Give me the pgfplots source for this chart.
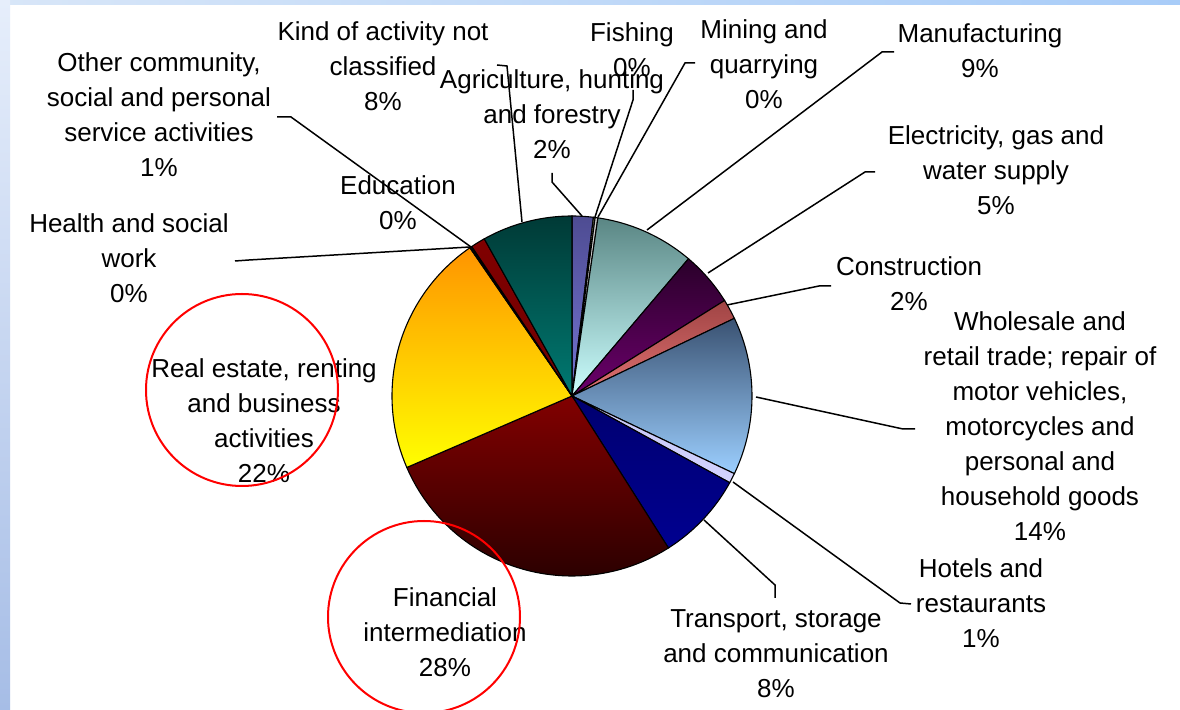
\documentclass[border=0pt]{standalone}
\usepackage{pgfplots}
\pgfplotsset{compat=1.18}
\usepackage{fontspec}
\setmainfont{Liberation Sans}

% slice colours (top / bottom of each gradient)
\definecolor{agriT}{HTML}{4E4C92}\definecolor{agriB}{HTML}{7474D4}
\definecolor{fishT}{HTML}{A0A070}\definecolor{fishB}{HTML}{FFFFCC}
\definecolor{mineT}{HTML}{C8C8C8}\definecolor{mineB}{HTML}{FFFFFF}
\definecolor{manuT}{HTML}{5A8684}\definecolor{manuB}{HTML}{CCFFFF}
\definecolor{elecT}{HTML}{2A002A}\definecolor{elecB}{HTML}{6C006C}
\definecolor{consT}{HTML}{A04444}\definecolor{consB}{HTML}{E07272}
\definecolor{wholT}{HTML}{3A5272}\definecolor{wholB}{HTML}{9CCFFF}
\definecolor{hoteT}{HTML}{C4C4F4}\definecolor{hoteB}{HTML}{D4D4FF}
\definecolor{tranT}{HTML}{000070}\definecolor{tranB}{HTML}{000090}
\definecolor{finaT}{HTML}{820000}\definecolor{finaB}{HTML}{2C0000}
\definecolor{realT}{HTML}{FF9400}\definecolor{realB}{HTML}{FFFF00}
\definecolor{educT}{HTML}{CCCCFF}\definecolor{educB}{HTML}{CCCCFF}
\definecolor{healT}{HTML}{FFCC99}\definecolor{healB}{HTML}{FFCC99}
\definecolor{otheT}{HTML}{800000}\definecolor{otheB}{HTML}{700000}
\definecolor{kindT}{HTML}{003A36}\definecolor{kindB}{HTML}{007A72}
\definecolor{bgTop}{HTML}{E6EEFB}\definecolor{bgBot}{HTML}{A6BDE6}
\definecolor{stripL}{HTML}{D8E6F8}\definecolor{stripR}{HTML}{A8CCF8}

% pie geometry: centre (572,396), radius 180 (image pixel units)
\newcommand\cum{0}
\newcommand\pieslice[3]{%
  \pgfmathsetmacro\sA{90-3.6*\cum}%
  \pgfmathsetmacro\sB{90-3.6*(\cum+#1)}%
  \pgfmathsetmacro\newcum{\cum+#1}\xdef\cum{\newcum}%
  \edef\doit{\noexpand\addplot[draw=black, line width=0.55pt, top color=#2, bottom color=#3,
     domain=\sB:\sA, samples=90, variable=\noexpand\t]
     ({572+180*cos(\noexpand\t)},{396-180*sin(\noexpand\t)}) -- (axis cs:572,396) -- cycle;}%
  \doit}

\begin{document}
\begin{tikzpicture}
\begin{axis}[
  scale only axis, width=590pt, height=355pt,
  xmin=0, xmax=1180, ymin=0, ymax=710, y dir=reverse,
  hide axis, clip=true,
]
% background (slide)
\fill[white] (axis cs:0,0) rectangle (axis cs:1180,710);
\shade[left color=stripL, right color=stripR] (axis cs:0,0) rectangle (axis cs:1180,5);
\shade[top color=bgTop, bottom color=bgBot] (axis cs:0,0) rectangle (axis cs:10,710);

% slices, clockwise from 12 o'clock (percent of total)
\pieslice{1.9}{agriT}{agriB}   % Agriculture, hunting and forestry
\pieslice{0.15}{fishT}{fishB}  % Fishing
\pieslice{0.25}{mineT}{mineB}  % Mining and quarrying
\pieslice{8.9}{manuT}{manuB}   % Manufacturing
\pieslice{4.9}{elecT}{elecB}   % Electricity, gas and water supply
\pieslice{1.8}{consT}{consB}   % Construction
\pieslice{14.2}{wholT}{wholB}  % Wholesale and retail trade
\pieslice{0.9}{hoteT}{hoteB}   % Hotels and restaurants
\pieslice{8.0}{tranT}{tranB}   % Transport, storage and communication
\pieslice{27.5}{finaT}{finaB}  % Financial intermediation
\pieslice{21.9}{realT}{realB}  % Real estate, renting and business activities
\pieslice{0.1}{educT}{educB}   % Education
\pieslice{0.1}{healT}{healB}   % Health and social work
\pieslice{1.3}{otheT}{otheB}   % Other community, social and personal service activities
\pieslice{8.1}{kindT}{kindB}   % Kind of activity not classified

% leader lines
\begin{scope}[black, line width=0.75pt]
\draw (axis cs:497,65) -- (axis cs:507,66) -- (axis cs:522,222);
\draw (axis cs:277,117) -- (axis cs:291,117) -- (axis cs:471,247);
\draw (axis cs:235,261) -- (axis cs:249,260) -- (axis cs:470,247);
\draw (axis cs:552,173) -- (axis cs:552,182) -- (axis cs:582,216);
\draw (axis cs:633,90) -- (axis cs:633,100) -- (axis cs:595,217);
\draw (axis cs:695,63) -- (axis cs:685,63) -- (axis cs:598,217);
\draw (axis cs:894,52) -- (axis cs:882,52) -- (axis cs:647,230);
\draw (axis cs:875,172) -- (axis cs:865,172) -- (axis cs:708,273);
\draw (axis cs:831,286) -- (axis cs:819,286) -- (axis cs:727,305);
\draw (axis cs:915,429) -- (axis cs:903,429) -- (axis cs:756,397);
\draw (axis cs:911,604) -- (axis cs:900,603) -- (axis cs:733,482);
\draw (axis cs:775,598) -- (axis cs:775,585) -- (axis cs:704,520);
\end{scope}

% labels
\begin{scope}[every node/.style={align=center, inner sep=0pt, text=black,
   font=\fontsize{13}{17.5}\selectfont}]
\node at (axis cs:383,66) {Kind of activity not\\classified\\8\%};
\node at (axis cs:159,114.5) {Other community,\\social and personal\\service activities\\1\%};
\node at (axis cs:632,49.5) {Fishing\\0\%};
\node at (axis cs:552,114) {Agriculture, hunting\\and forestry\\2\%};
\node at (axis cs:764,64) {Mining and\\quarrying\\0\%};
\node at (axis cs:980,50.5) {Manufacturing\\9\%};
\node at (axis cs:996,170) {Electricity, gas and\\water supply\\5\%};
\node at (axis cs:909,283.5) {Construction\\2\%};
\node at (axis cs:1040,426.5) {Wholesale and\\retail trade; repair of\\motor vehicles,\\motorcycles and\\personal and\\household goods\\14\%};
\node at (axis cs:981,603) {Hotels and\\restaurants\\1\%};
\node at (axis cs:776,654) {Transport, storage\\and communication\\8\%};
\node at (axis cs:445,632.5) {Financial\\intermediation\\28\%};
\node at (axis cs:264,421) {Real estate, renting\\and business\\activities\\22\%};
\node at (axis cs:129,258) {Health and social\\work\\0\%};
\node at (axis cs:398,203) {Education\\0\%};
\end{scope}

% red highlight circles
\draw[red, line width=1pt] (axis cs:242,390) circle[radius=48pt];
\draw[red, line width=1pt] (axis cs:424,617) circle[radius=48pt];

\coordinate (BL) at (axis cs:0,710);
\coordinate (TR) at (axis cs:1180,0);
\end{axis}
\pgfresetboundingbox
\path[use as bounding box] (BL) rectangle (TR);
\end{tikzpicture}
\end{document}
